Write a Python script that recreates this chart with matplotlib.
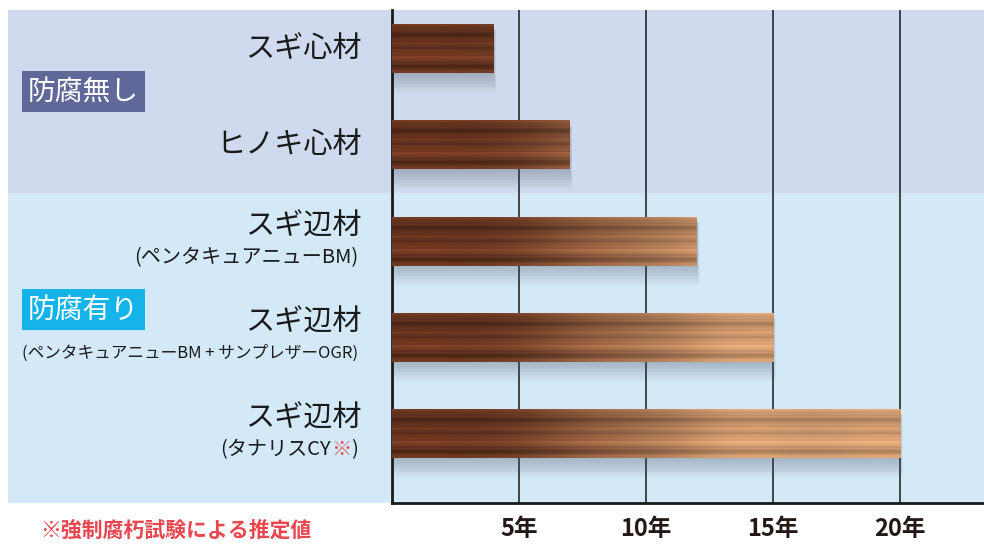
import numpy as np
import matplotlib
matplotlib.use("Agg")
import matplotlib.pyplot as plt
from matplotlib.patches import Rectangle
from matplotlib import transforms

plt.rcParams['font.family'] = ['Noto Sans CJK JP', 'DejaVu Sans']

# data
names = ['スギ心材', 'ヒノキ心材', 'スギ辺材', 'スギ辺材', 'スギ辺材']
subs = ['', '', '(ペンタキュアニューBM)', '(ペンタキュアニューBM + サンプレザーOGR)', '(タナリスCY']
years = [4, 7, 12, 15, 20]
ticks = [5, 10, 15, 20]
tick_labels = ['5年', '10年', '15年', '20年']
groups = ['防腐無し', '防腐有り']
note = '※強制腐朽試験による推定値'

fig = plt.figure(figsize=(9.84, 5.44), dpi=100)
ax = fig.add_axes([392 / 984, 41 / 544, 592 / 984, 493 / 544])
ax.set_facecolor('none')

ypos = np.arange(len(years))
bar_h = 0.5

# background panels, from left edge of figure to right edge of axes
bt = transforms.blended_transform_factory(fig.transFigure, ax.transData)
ax.add_patch(Rectangle((8 / 984, -0.405), 1 - 8 / 984, 1.905, transform=bt,
                       facecolor='#cfdaee', edgecolor='none', zorder=0, clip_on=False))
ax.add_patch(Rectangle((8 / 984, 1.5), 1 - 8 / 984, 3.217, transform=bt,
                       facecolor='#d3e9f8', edgecolor='none', zorder=0, clip_on=False))

# wood texture (styling only)
W, H = 1000, 48
r = np.linspace(0, 1, H)
prof = (1 + 0.10 * np.sin(2 * np.pi * r * 3.1 + 0.4) + 0.07 * np.sin(2 * np.pi * r * 7.3 + 1.1)
        + 0.06 * np.sin(2 * np.pi * r * 13.7) + 0.05 * np.sin(2 * np.pi * r * 21.3 + 0.7)
        + 0.04 * np.sin(2 * np.pi * r * 31.9 + 2.0)
        + 0.15 * np.exp(-((r - 0.62) / 0.10) ** 2)
        - 0.14 * np.exp(-((r - 0.20) / 0.14) ** 2) - 0.18 * np.exp(-((r - 0.86) / 0.04) ** 2)
        - 0.12 * np.exp(-((r - 0.45) / 0.03) ** 2))
c = np.arange(W)
colv = 1 + 0.025 * np.sin(c * 0.021) + 0.02 * np.sin(c * 0.0071 + 2)
x = c / W * 20
t = np.clip((x - 2) / 13, 0, 1)
t = t * t * (3 - 2 * t)
dark = np.array([100, 50, 30]) / 255
light = np.array([202, 150, 108]) / 255
base = dark[None, :] + (light - dark)[None, :] * t[:, None]
amp = 1.0 - 0.4 * t
stripe = 1 + (prof[:, None] - 1) * amp[None, :]
tex = np.clip(base[None, :, :] * stripe[:, :, None] * colv[None, :, None], 0, 1)

ax.barh(ypos, years, height=bar_h, color='#7a4a2e', zorder=3)
for y, v in zip(ypos, years):
    # soft shadow
    for i in range(10):
        s = 0.02 * (i + 1)
        ax.add_patch(Rectangle((0, y - bar_h / 2 + 0.05), v + s * 0.5, bar_h - 0.05 + s,
                               facecolor='#55606e', edgecolor='none', alpha=0.04, zorder=2))
    ncol = int(round(v / 20 * W))
    ax.imshow(tex[:, :ncol], extent=(0, v, y + bar_h / 2, y - bar_h / 2),
              aspect='auto', interpolation='bilinear', zorder=4)

ax.set_xlim(0, 23.3)
ax.set_ylim(4.717, -0.405)

# axes styling
ax.set_xticks(ticks)
ax.set_xticklabels(tick_labels, fontsize=17, fontweight='bold', color='#231815')
ax.tick_params(axis='x', length=0, pad=10)
ax.set_yticks([])
ax.grid(axis='x', color='#1a1a1a', linewidth=1.1)
ax.set_axisbelow(True)
for sp in ['top', 'right']:
    ax.spines[sp].set_visible(False)
for sp in ['left', 'bottom']:
    ax.spines[sp].set_linewidth(2)
    ax.spines[sp].set_color('#1a1a1a')

# category labels
lx = 362 / 984
for i, (nm, sb) in enumerate(zip(names, subs)):
    if not sb:
        ax.text(lx, i, nm, transform=bt, ha='right', va='center', fontsize=21, color='#1a1a1a')
        continue
    ax.text(lx, i - 0.155, nm, transform=bt, ha='right', va='center', fontsize=21, color='#1a1a1a')
    fs = 12 if len(sb) > 20 else 14.5
    if i == 4:
        t1 = ax.text(358 / 984, i + 0.165, ')', transform=bt, ha='right', va='center',
                     fontsize=fs, color='#1a1a1a')
        t2 = ax.annotate('※', xy=(0, 0), xycoords=t1, ha='right', va='bottom',
                         fontsize=fs, color='#e8474f')
        ax.annotate(sb, xy=(0, 0), xycoords=t2, ha='right', va='bottom',
                    fontsize=fs, color='#1a1a1a')
    else:
        ax.text(358 / 984, i + 0.165, sb, transform=bt, ha='right', va='center',
                fontsize=fs, color='#1a1a1a')

# group boxes
gy = [0.44, 2.71]
gc = ['#5f6898', '#14b4e8']
for g, y, col in zip(groups, gy, gc):
    ax.text(28 / 984, y, g, transform=bt, ha='left', va='center', fontsize=20,
            color='white', bbox=dict(boxstyle='square,pad=0.2', facecolor=col, edgecolor='none'))

fig.text(40 / 984, 1 - 530 / 544, note, ha='left', va='center', fontsize=15,
         fontweight='bold', color='#e8474f')

fig.savefig('out.png', dpi=100)
